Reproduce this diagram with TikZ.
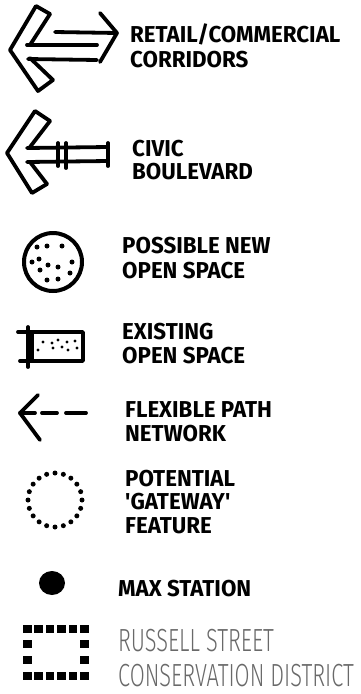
\documentclass[tikz,border=0pt]{standalone}
\usepackage{fontspec}
\usepackage{graphicx}
\newfontfamily\lgHandFont{Fira Sans}
\newfontfamily\lgThinFont{Fira Sans Light}
\definecolor{lgGrey}{RGB}{105,105,105}
\newcommand{\lgHand}[1]{\scalebox{0.97}[1]{\fontsize{23}{23}\selectfont\lgHandFont\bfseries #1}}
\newcommand{\lgThin}[1]{\scalebox{0.68}[1]{\fontsize{32}{32}\selectfont\lgThinFont\color{lgGrey}#1}}
\tikzset{
  marker/.style={line width=3.8pt, line cap=round, line join=round},
  handlabel/.style={anchor=base west, inner sep=0pt},
  speck/.style={fill, inner sep=0pt, minimum size=#1, circle}
}

\begin{document}
\begin{tikzpicture}[x=1pt,y=-1pt]
\useasboundingbox (0,0) rectangle (360,694);
% retail / commercial corridors
\draw[marker] (50,14) -- (36,6) -- (10,50) -- (38,91) -- (53,80);
\draw[marker] (50,14) -- (30,45);
\draw[marker] (53,80) -- (30,58);
\draw[marker] (55,32) -- (117,33);
\draw[marker] (27,45) -- (97,45);
\draw[marker] (28,59) -- (97,60);
\draw[marker] (100,13) -- (117,33) -- (100,62);
\node[handlabel] (retail) at (130,42) {\lgHand{RETAIL/COMMERCIAL}};
\node[handlabel] (corridors) at (130,67) {\lgHand{CORRIDORS}};
% civic boulevard
\draw[marker] (50,121) -- (35,111) -- (7,153) -- (32,193) -- (47,184);
\draw[marker] (50,121) -- (30,147);
\draw[marker] (47,184) -- (30,162);
\draw[marker] (27,148) -- (108,147);
\draw[marker] (27,162) -- (108,161);
\draw[marker] (58,143) -- (58,166);
\draw[marker] (66,143) -- (66,168);
\draw[marker] (108,143) -- (108,166);
\node[handlabel] (civic) at (132,156) {\lgHand{CIVIC}};
\node[handlabel] (boulevard) at (132,179) {\lgHand{BOULEVARD}};
% possible new open space
\draw[marker, line width=4pt] (53,262) circle (29);
\foreach \px/\py in {37/247,47/246,62/246,32/262,39/259,48/265,58/267,72/262,40/270,47/280,58/279,70/273}
  \node[speck=5pt] at (\px,\py) {};
\node[handlabel] (possible) at (122,253) {\lgHand{POSSIBLE NEW}};
\node[handlabel] (openNew) at (122,278) {\lgHand{OPEN SPACE}};
% existing open space
\draw[marker] (32,332) rectangle (83,361);
\draw[marker] (18,332) -- (32,332);
\draw[marker] (20,361) -- (32,361);
\draw[marker] (28,327) -- (28,367);
\foreach \px/\py in {43/342,52/343,58/340,67/342,75/341,38/350,53/348,62/347,68/350,77/348}
  \node[speck=3.4pt] at (\px,\py) {};
\node[handlabel] (existing) at (122,339) {\lgHand{EXISTING}};
\node[handlabel] (openOld) at (122,363) {\lgHand{OPEN SPACE}};
% flexible path network
\draw[marker] (38,395) -- (20,413) -- (40,440);
\draw[marker] (20,413) -- (35,413);
\draw[marker] (42,413) -- (57,413);
\draw[marker] (66,413) -- (86,413);
\node[handlabel] (flexible) at (125,417) {\lgHand{FLEXIBLE PATH}};
\node[handlabel] (network) at (125,441) {\lgHand{NETWORK}};
% potential gateway feature
\foreach \a in {0,18,...,342}
  \node[speck=5pt] at ({55+27*cos(\a)},{500+27*sin(\a)}) {};
\node[handlabel] (potential) at (125,486) {\lgHand{POTENTIAL}};
\node[handlabel] (gateway) at (125,509) {\lgHand{'GATEWAY'}};
\node[handlabel] (feature) at (125,533) {\lgHand{FEATURE}};
% max station
\fill (52,583) ellipse [x radius=13, y radius=12];
\node[handlabel] (max) at (118,596) {\lgHand{MAX STATION}};
% russell street conservation district
\foreach \i in {0,...,5} {
  \fill ({23+11.4*\i},625) rectangle ++(8.5,8);
  \fill ({23+11.4*\i},672) rectangle ++(8.5,8);
}
\foreach \py in {640,656} {
  \fill (23,\py) rectangle ++(8.5,8);
  \fill (80,\py) rectangle ++(8.5,8);
}
\node[handlabel] (russell) at (118,651) {\lgThin{RUSSELL STREET}};
\node[handlabel] (district) at (118,686) {\lgThin{CONSERVATION DISTRICT}};
\end{tikzpicture}
\end{document}
